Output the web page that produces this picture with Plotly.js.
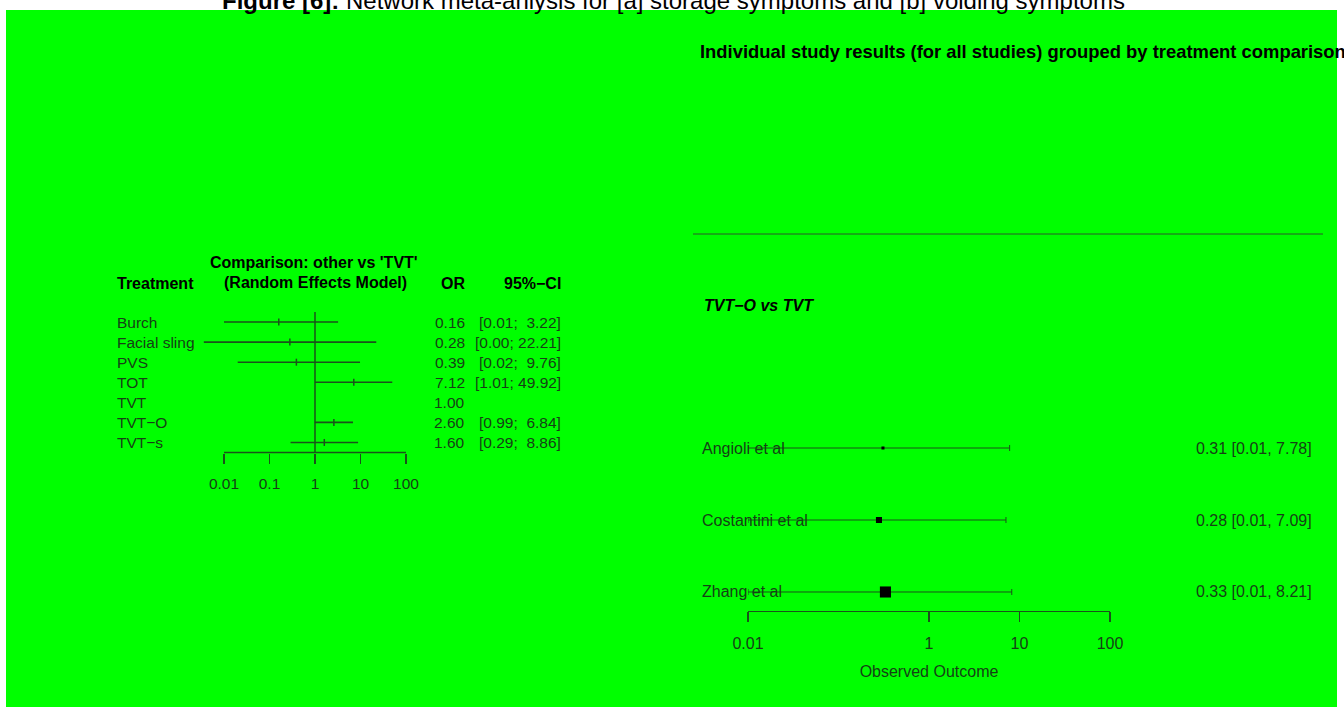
<!DOCTYPE html>
<html>
<head>
<meta charset="utf-8">
<script src="https://cdn.plot.ly/plotly-3.0.1.min.js"></script>
<style>html,body{margin:0;padding:0;background:#fff;}#chart{width:1344px;height:707px;}</style>
</head>
<body>
<div id="chart"></div>
<script>
// ---- Panel [a]: network meta-analysis, other vs 'TVT' (random effects) ----
var treatments = ["Burch", "Facial sling", "PVS", "TOT", "TVT", "TVT\u2212O", "TVT\u2212s"];
var orEst = [0.16, 0.28, 0.39, 7.12, 1.00, 2.60, 1.60];
var orLow = [0.01, 0.0036, 0.02, 1.01, null, 0.99, 0.29];
var orHigh = [3.22, 22.21, 9.76, 49.92, null, 6.84, 8.86];
var axisTicksA = [0.01, 0.1, 1, 10, 100];
var axisLabelsA = ["0.01", "0.1", "1", "10", "100"];

// ---- Panel [b]: individual studies, TVT-O vs TVT ----
var studies = ["Angioli et al", "Costantini et al", "Zhang et al"];
var studyEst = [0.31, 0.28, 0.33];
var studyLow = [0.01, 0.01, 0.01];
var studyHigh = [7.78, 7.09, 8.21];
var studyWeight = [5.5, 21.8, 72.7];
var axisTicksB = [0.01, 1, 10, 100];
var axisLabelsB = ["0.01", "1", "10", "100"];

var W = 1344, H = 707;
function px(x){ return x / W; }
function py(y){ return (H - y) / H; }

var FONT = "Liberation Sans, Arial, Helvetica, sans-serif";
var TXT = "#163f16";
var LINE = "#1a531a";

function f2(v){ return v.toFixed(2); }
function pad(s, n){ while (s.length < n) s = "\u00a0" + s; return s; }

var rowsA = [], xA = [], plusA = [], minusA = [];
for (var i = 0; i < treatments.length; i++) {
  if (orLow[i] === null) continue;
  rowsA.push(i + 1); xA.push(orEst[i]);
  plusA.push(orHigh[i] - orEst[i]); minusA.push(orEst[i] - orLow[i]);
}
var traceA = {
  type: "scatter", mode: "markers", x: xA, y: rowsA, xaxis: "x", yaxis: "y", cliponaxis: false,
  marker: {symbol: "line-ns-open", size: 5, line: {color: LINE, width: 1.5}, color: LINE, opacity: 1},
  error_x: {type: "data", symmetric: false, array: plusA, arrayminus: minusA, width: 0, thickness: 1.6, color: LINE},
  hoverinfo: "skip", showlegend: false
};
var rowsB = studies.map(function(_, i){ return i + 1; });
var traceB = {
  type: "scatter", mode: "markers", x: studyEst, y: rowsB, xaxis: "x2", yaxis: "y2", cliponaxis: false,
  marker: {symbol: "square", size: studyWeight.map(function(w){ return 1.3 * Math.sqrt(w); }),
           color: "#000", opacity: 1, line: {width: 0}},
  error_x: {type: "data", symmetric: false,
    array: studyEst.map(function(e, i){ return studyHigh[i] - e; }),
    arrayminus: studyEst.map(function(e, i){ return e - studyLow[i]; }),
    width: 3, thickness: 1, color: LINE},
  hoverinfo: "skip", showlegend: false
};

var ann = [];
function A(o){ o.showarrow = false; o.borderpad = 0; o.borderwidth = 0; if(!o.font) o.font = {}; o.font.family = o.font.family || FONT; ann.push(o); }

var FS = 15.5;
// main figure title (clipped at top)
A({xref: "paper", yref: "paper", x: px(673), y: py(0), xanchor: "center", yanchor: "middle",
   text: "<b>Figure [6]:</b> Network meta-anlysis for [a] storage symptoms and [b] voiding symptoms",
   font: {size: 24, color: "#000"}});

// panel a headers
A({xref: "paper", yref: "paper", x: px(117), y: py(283), xanchor: "left", yanchor: "middle", text: "<b>Treatment</b>", font: {size: 16, color: "#000"}});
A({xref: "paper", yref: "paper", x: px(314), y: py(262), xanchor: "center", yanchor: "middle", text: "<b>Comparison: other vs 'TVT'</b>", font: {size: 16, color: "#000"}});
A({xref: "paper", yref: "paper", x: px(315), y: py(282), xanchor: "center", yanchor: "middle", text: "<b>(Random Effects Model)</b>", font: {size: 16, color: "#000"}});
A({xref: "paper", yref: "paper", x: px(465), y: py(283), xanchor: "right", yanchor: "middle", text: "<b>OR</b>", font: {size: 16, color: "#000"}});
A({xref: "paper", yref: "paper", x: px(561), y: py(283), xanchor: "right", yanchor: "middle", text: "<b>95%\u2212CI</b>", font: {size: 16, color: "#000"}});

for (var i = 0; i < treatments.length; i++) {
  A({xref: "paper", yref: "y", x: px(117), y: i + 1, xanchor: "left", yanchor: "middle", text: treatments[i], font: {size: FS, color: TXT}});
  A({xref: "paper", yref: "y", x: px(465), y: i + 1, xanchor: "right", yanchor: "middle", text: f2(orEst[i]), font: {size: FS, color: TXT}});
  if (orLow[i] !== null) {
    A({xref: "paper", yref: "y", x: px(561), y: i + 1, xanchor: "right", yanchor: "middle",
       text: "[" + f2(orLow[i]) + ";\u00a0" + pad(f2(orHigh[i]), 5) + "]", font: {size: FS, color: TXT}});
  }
}

// panel b
A({xref: "paper", yref: "paper", x: px(700), y: py(52), xanchor: "left", yanchor: "middle",
   text: "<b>Individual study results (for all studies) grouped by treatment comparison</b>", font: {size: 18.4, color: "#000"}});
A({xref: "paper", yref: "paper", x: px(704), y: py(305), xanchor: "left", yanchor: "middle",
   text: "<b><i>TVT\u2212O vs TVT</i></b>", font: {size: 16, color: "#000"}});
for (var j = 0; j < studies.length; j++) {
  A({xref: "paper", yref: "y2", x: px(702), y: j + 1, xanchor: "left", yanchor: "middle", text: studies[j], font: {size: 16, color: TXT}});
  A({xref: "paper", yref: "y2", x: px(1312), y: j + 1, xanchor: "right", yanchor: "middle",
     text: f2(studyEst[j]) + " [" + f2(studyLow[j]) + ", " + f2(studyHigh[j]) + "]", font: {size: 16, color: TXT}});
}

var axCommon = {type: "log", range: [-2, 2], showgrid: false, zeroline: false, showline: true,
  linecolor: LINE, linewidth: 1.5, ticks: "outside", tickcolor: LINE, tickwidth: 1.5, ticklen: 10,
  tickfont: {family: FONT, size: FS, color: TXT}, fixedrange: true};

// left axis: extra room on the left so the widest interval is not clipped; axis line drawn from first to last tick
var PXDEC = 45.5, EXTRA = 0.7;
var layout = {
  width: W, height: H, margin: {l: 0, r: 0, t: 0, b: 0, pad: 0},
  paper_bgcolor: "#ffffff", plot_bgcolor: "rgba(0,0,0,0)",
  showlegend: false,
  xaxis: Object.assign({}, axCommon, {domain: [px(224 - EXTRA * PXDEC), px(406)], range: [-2 - EXTRA, 2], anchor: "y",
    showline: false, tickmode: "array", tickvals: axisTicksA, ticktext: axisLabelsA, ticklabelstandoff: 7}),
  yaxis: {domain: [py(452.5), py(312)], range: [7.5, 0.5], visible: false, fixedrange: true},
  xaxis2: Object.assign({}, axCommon, {domain: [px(748), px(1110)], anchor: "y2",
    tickmode: "array", tickvals: axisTicksB, ticktext: axisLabelsB, ticklabelstandoff: 8, linewidth: 1.2, tickwidth: 1.2,
    tickfont: {family: FONT, size: 16, color: TXT},
    title: {text: "Observed Outcome", font: {family: FONT, size: 16, color: TXT}, standoff: 14}}),
  yaxis2: {domain: [py(611), py(412)], range: [3.264, 0.5], visible: false, fixedrange: true},
  shapes: [
    {type: "rect", xref: "paper", yref: "paper", x0: px(6), x1: px(1337), y0: py(707), y1: py(10),
     fillcolor: "#00ff00", line: {width: 0}, layer: "below"},
    {type: "line", xref: "x", yref: "y domain", x0: 1, x1: 1, y0: 0, y1: 1, line: {color: LINE, width: 1.5}, layer: "below"},
    {type: "line", xref: "x", yref: "y domain", x0: axisTicksA[0], x1: axisTicksA[axisTicksA.length - 1], y0: 0, y1: 0,
     line: {color: LINE, width: 1.5}},
    {type: "line", xref: "paper", yref: "paper", x0: px(693), x1: px(1323), y0: py(234), y1: py(234),
     line: {color: "#2a5a2a", width: 1.2}}
  ],
  annotations: ann
};

Plotly.newPlot("chart", [traceA, traceB], layout, {displayModeBar: false, staticPlot: true});
</script>
</body>
</html>
